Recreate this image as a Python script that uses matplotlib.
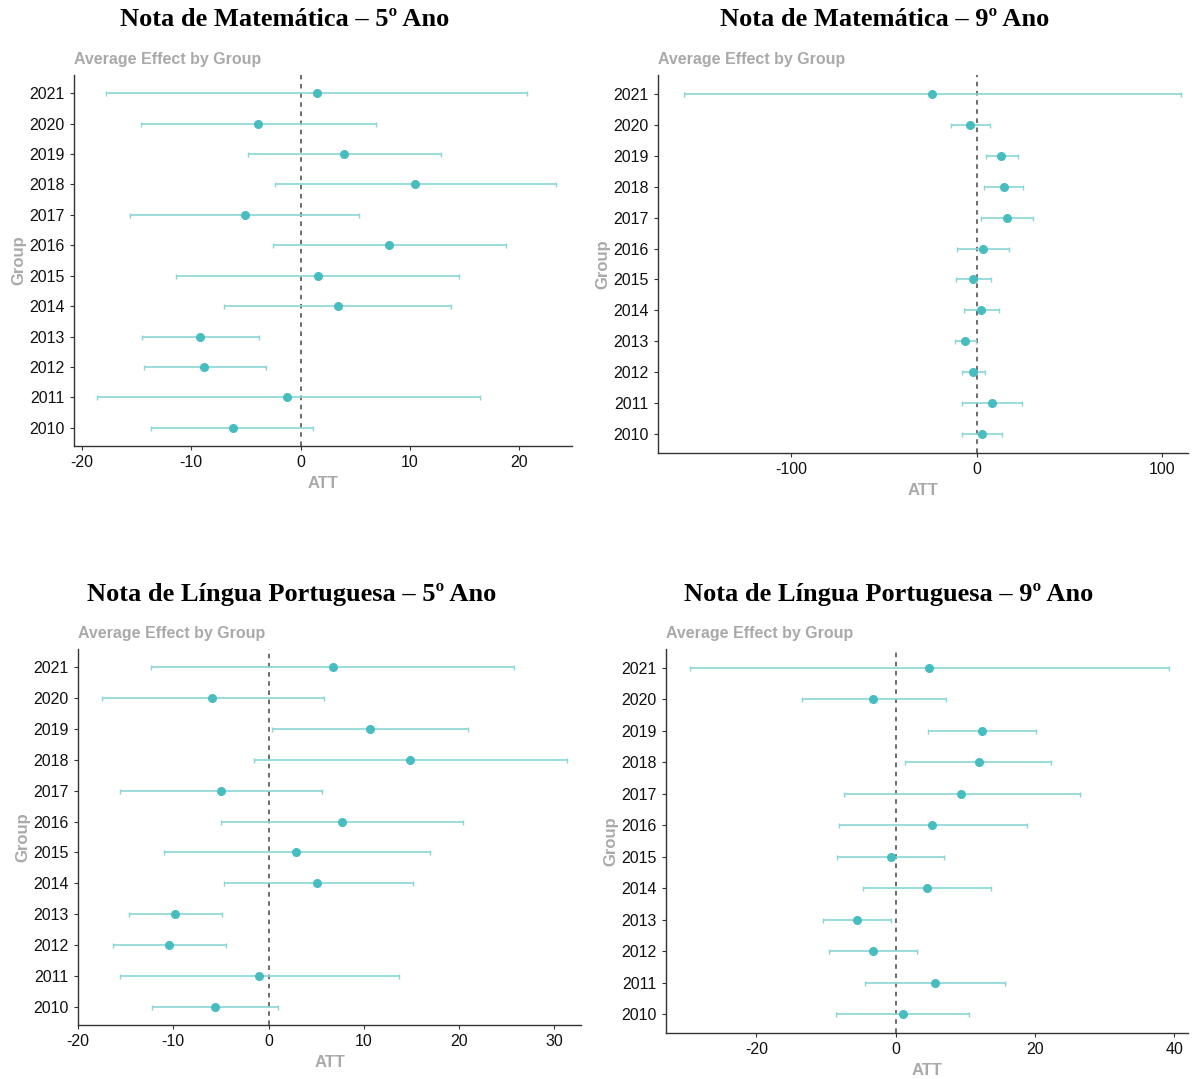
import matplotlib
matplotlib.use("Agg")
import matplotlib.pyplot as plt

plt.rcParams['font.family'] = ['Liberation Sans', 'DejaVu Sans']
plt.rcParams['axes.unicode_minus'] = False

W, H = 1203, 1079

groups = [2010, 2011, 2012, 2013, 2014, 2015, 2016, 2017, 2018, 2019, 2020, 2021]

titles = ['Nota de Matemática – 5º Ano', 'Nota de Matemática – 9º Ano',
          'Nota de Língua Portuguesa – 5º Ano', 'Nota de Língua Portuguesa – 9º Ano']

# estimates (2010 ... 2021)
mat5_att = [-6.2, -1.2, -8.8, -9.2, 3.4, 1.6, 8.1, -5.1, 10.5, 4.0, -3.9, 1.5]
mat5_low = [-13.7, -18.6, -14.3, -14.5, -7.0, -11.4, -2.5, -15.6, -2.3, -4.8, -14.6, -17.8]
mat5_high = [1.1, 16.4, -3.2, -3.8, 13.7, 14.5, 18.8, 5.3, 23.3, 12.8, 6.9, 20.7]

mat9_att = [2.7, 8.0, -1.9, -6.3, 2.3, -1.9, 3.4, 16.3, 14.8, 13.3, -3.6, -24.3]
mat9_low = [-8.2, -8.2, -8.2, -11.8, -6.8, -11.4, -10.6, 2.3, 4.0, 4.9, -13.9, -158.2]
mat9_high = [13.7, 24.5, 4.4, -0.6, 12.0, 7.8, 17.3, 30.4, 24.9, 22.0, 7.2, 110.0]

por5_att = [-5.6, -1.0, -10.4, -9.8, 5.1, 2.9, 7.7, -5.0, 14.8, 10.6, -5.9, 6.8]
por5_low = [-12.2, -15.6, -16.3, -14.6, -4.7, -11.0, -5.0, -15.6, -1.5, 0.35, -17.5, -12.3]
por5_high = [1.0, 13.7, -4.5, -4.9, 15.2, 16.9, 20.4, 5.6, 31.3, 20.9, 5.8, 25.8]

por9_att = [1.0, 5.6, -3.3, -5.6, 4.5, -0.7, 5.2, 9.4, 11.9, 12.4, -3.2, 4.8]
por9_low = [-8.6, -4.4, -9.6, -10.4, -4.7, -8.4, -8.1, -7.4, 1.4, 4.7, -13.5, -29.5]
por9_high = [10.6, 15.7, 3.1, -0.7, 13.7, 7.0, 18.8, 26.5, 22.3, 20.1, 7.2, 39.3]

xticks = [[-20, -10, 0, 10, 20], [-100, 0, 100], [-20, -10, 0, 10, 20, 30], [-20, 0, 20, 40]]
xlims = [(-20.7, 24.8), (-172, 114), (-20.0, 32.8), (-33.0, 42.0)]

# panel boxes in pixels: left, right, top, bottom
boxes = [(74, 572, 75, 446), (658, 1188, 75, 453), (78, 581, 649, 1025), (666, 1188, 649, 1033)]

series = [(mat5_att, mat5_low, mat5_high), (mat9_att, mat9_low, mat9_high),
          (por5_att, por5_low, por5_high), (por9_att, por9_low, por9_high)]

line_col = '#8ad6d6'
pt_col = '#48bdbf'
grey = '#a9a9a9'

fig = plt.figure(figsize=(W / 100, H / 100), dpi=100)
fig.patch.set_facecolor('white')

for i in range(4):
    l, r, t, b = boxes[i]
    ax = fig.add_axes([l / W, 1 - b / H, (r - l) / W, (b - t) / H])
    att, low, high = series[i]
    ypos = list(range(len(groups)))
    ax.axvline(0, color='#444444', linestyle=(0, (3, 3)), linewidth=1.1, zorder=1)
    ax.errorbar(att, ypos, xerr=[[a - lo for a, lo in zip(att, low)], [hi - a for a, hi in zip(att, high)]],
                fmt='none', ecolor=line_col, elinewidth=1.2, capsize=1.8, capthick=1.0, zorder=2)
    ax.plot(att, ypos, 'o', color=pt_col, markersize=5.5, zorder=3)
    ax.set_yticks(ypos)
    ax.set_yticklabels([str(g) for g in groups])
    ax.set_ylim(-0.6, 11.6)
    ax.set_xlim(*xlims[i])
    ax.set_xticks(xticks[i])
    ax.spines['top'].set_visible(False)
    ax.spines['right'].set_visible(False)
    for s in ['left', 'bottom']:
        ax.spines[s].set_color('#333333')
        ax.spines[s].set_linewidth(1.0)
    ax.tick_params(axis='both', labelsize=11.5, colors='#333333', length=3, width=0.8, labelcolor='#111111')
    ax.set_xlabel('ATT', fontsize=12, fontweight='bold', color=grey, labelpad=4.5)
    ax.set_ylabel('Group', fontsize=12, fontweight='bold', color=grey, labelpad=2)
    ax.set_title('Average Effect by Group', loc='left', fontsize=11.5, fontweight='bold', color=grey, pad=8)
    fig.text(((l + r) / 2 - 38) / W, 1 - (t - 55) / H, titles[i], ha='center', va='center',
             fontsize=19, fontweight='bold', family='Liberation Serif')

fig.savefig('out.png', dpi=100)
